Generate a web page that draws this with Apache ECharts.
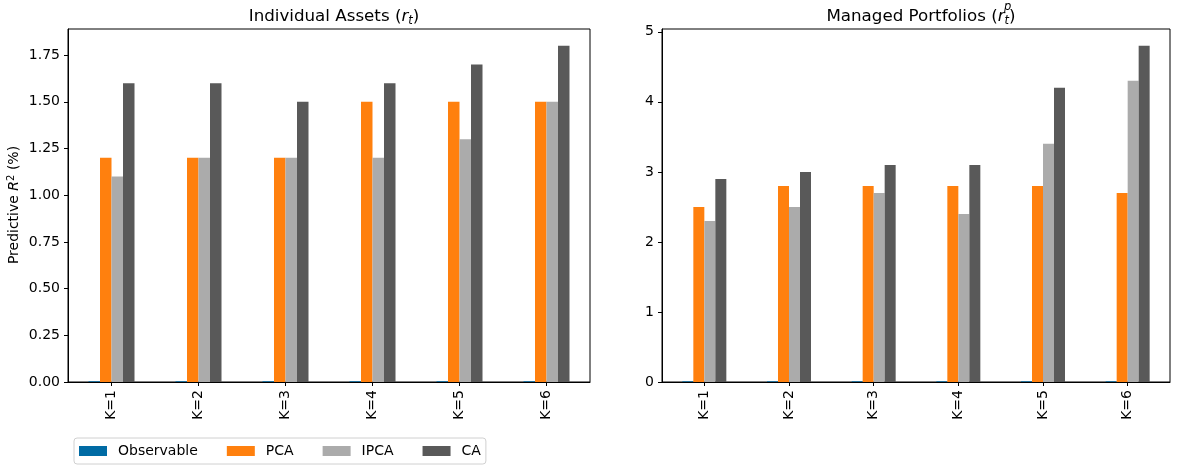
<!DOCTYPE html>
<html><head><meta charset="utf-8">
<script src="https://cdn.jsdelivr.net/npm/echarts@6/dist/echarts.min.js"></script>
<style>html,body{margin:0;padding:0;background:#fff}#c{width:1182px;height:466px}</style>
</head><body><div id="c"></div>
<script>
const categories = ['K=1','K=2','K=3','K=4','K=5','K=6'];
const seriesNames = ['Observable','PCA','IPCA','CA'];
const colors = ['#006BA4','#FF800E','#ABABAB','#595959'];
// Individual assets
const obsA  = [0.004,0.004,0.004,0.004,0.004,0.004];
const pcaA  = [1.2,1.2,1.2,1.5,1.5,1.5];
const ipcaA = [1.1,1.2,1.2,1.2,1.3,1.5];
const caA   = [1.6,1.6,1.5,1.6,1.7,1.8];
// Managed portfolios
const obsP  = [0.01,0.01,0.01,0.01,0.01,0.01];
const pcaP  = [2.5,2.8,2.8,2.8,2.8,2.7];
const ipcaP = [2.3,2.5,2.7,2.4,3.4,4.3];
const caP   = [2.9,3.0,3.1,3.1,4.2,4.8];

const font = 'DejaVu Sans';
const FS = 14, TFS = 16.7;
const chart = echarts.init(document.getElementById('c'));

function xAxis(gi){
  return {type:'category', gridIndex:gi, data:categories,
    axisLine:{show:true,lineStyle:{color:'#000',width:1}},
    axisTick:{show:true,alignWithLabel:true,inside:false,length:4,lineStyle:{color:'#000'}},
    axisLabel:{rotate:90,color:'#000',fontFamily:font,fontSize:FS,margin:8},
    splitLine:{show:false}};
}
function yAxis(gi,max,interval,fmt){
  return {type:'value', gridIndex:gi, min:0, max:max, interval:interval,
    axisLine:{show:true,lineStyle:{color:'#000',width:1}},
    axisTick:{show:true,length:4,lineStyle:{color:'#000'}},
    axisLabel:{color:'#000',fontFamily:font,fontSize:FS,margin:8,formatter:fmt,
      showMaxLabel:false},
    splitLine:{show:false}};
}
const leftData=[obsA,pcaA,ipcaA,caA], rightData=[obsP,pcaP,ipcaP,caP];
const series=[];
[leftData,rightData].forEach((set,gi)=>{
  set.forEach((d,i)=>{
    series.push({type:'bar',name:seriesNames[i],xAxisIndex:gi,yAxisIndex:gi,data:d,
      barWidth:gi===0?11.5:11,barGap:'0%',itemStyle:{color:colors[i]},
      emphasis:{disabled:true},animation:false});
  });
});
const titleRich={a:{fontSize:TFS,fontWeight:'normal',fontFamily:font,color:'#000'},
       i:{fontSize:TFS,fontWeight:'normal',fontStyle:'italic',fontFamily:font,color:'#000'},
       s:{fontSize:11.5,fontWeight:'normal',fontStyle:'italic',fontFamily:font,color:'#000',verticalAlign:'bottom',padding:[8,0,0,0]}};

chart.setOption({
  animation:false,
  textStyle:{fontFamily:font},
  title:[
    {text:'{a|Individual Assets (}{i|r}{s|t}{a|)}',left:329,top:2,textAlign:'center',
     textStyle:{fontWeight:'normal',rich:titleRich}},
    {text:'{a|Managed Portfolios (}{i|r}{s|t}{a|)}',left:916,top:2,textAlign:'center',
     textStyle:{fontWeight:'normal',rich:titleRich}}
  ],
  graphic:[
    {type:'text',x:1004,y:1,style:{text:'p',font:'italic 11.5px "DejaVu Sans"',fill:'#000'}},
    {type:'text',x:14,y:205,rotation:Math.PI/2,
      style:{text:'{a|Predictive }{i|R}{s|2}{a| (%)}',align:'center',verticalAlign:'middle',
        rich:{a:{fontSize:FS,fontFamily:font,fill:'#000'},i:{fontSize:FS,fontStyle:'italic',fontFamily:font,fill:'#000'},
        s:{fontSize:10,fontFamily:font,fill:'#000',verticalAlign:'top',padding:[0,0,6,0]}}}}
  ],
  legend:{left:74,top:438,padding:[6,5,6,5],itemGap:29,
    itemWidth:28,itemHeight:10,icon:'rect',
    borderColor:'#d0d0d0',borderWidth:1,borderRadius:3,
    data:seriesNames,
    textStyle:{fontFamily:font,fontSize:FS,color:'#000',padding:[0,0,0,6]}},
  grid:[
    {left:68,top:29,width:522,bottom:84,show:true,borderColor:'#000',borderWidth:1,backgroundColor:'transparent'},
    {left:662,top:29,width:508,bottom:84,show:true,borderColor:'#000',borderWidth:1,backgroundColor:'transparent'}
  ],
  xAxis:[xAxis(0),xAxis(1)],
  yAxis:[yAxis(0,1.89,0.25,v=>v.toFixed(2)),yAxis(1,5.04,1,v=>String(v))],
  series:series
});
</script></body></html>
